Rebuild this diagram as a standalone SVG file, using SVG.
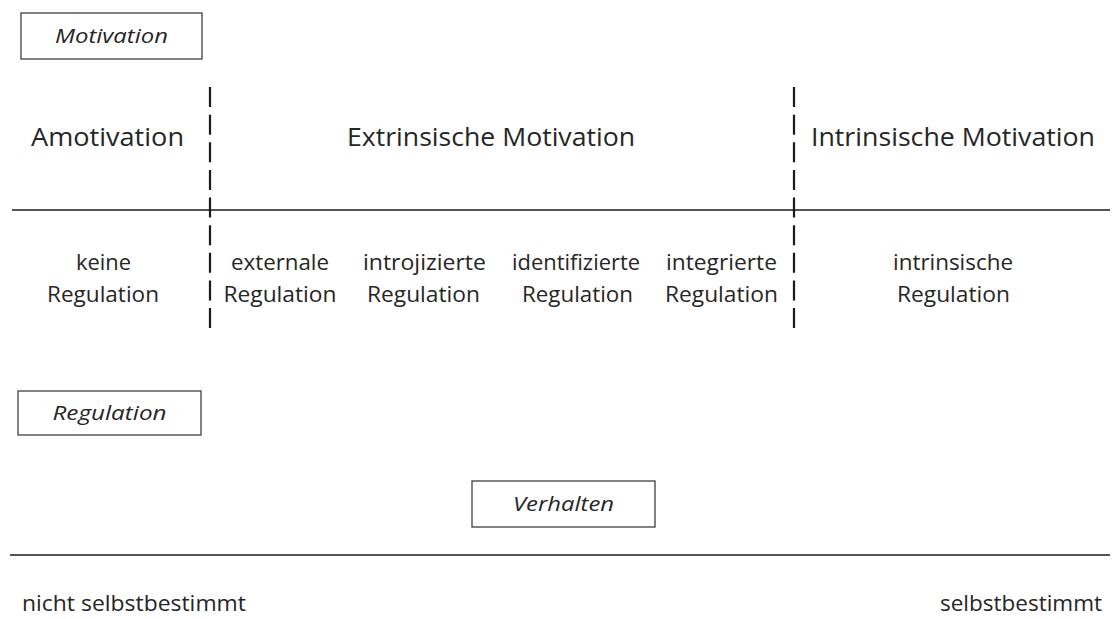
<svg xmlns="http://www.w3.org/2000/svg" width="1112" height="619" viewBox="0 0 1112 619">
<style>
text{font-family:"Open Sans","Noto Sans","Liberation Sans",sans-serif;fill:#262626;text-anchor:middle}
.h{font-size:25.5px}
.r{font-size:22px}
.it{font-size:20.5px;font-style:italic}
.box{fill:#fff;stroke:#404040;stroke-width:1.3}
.line{stroke:#1a1a1a;stroke-width:1.5;fill:none}
.dash{stroke:#1a1a1a;stroke-width:2.2;stroke-dasharray:20 7.625;fill:none}
</style>
<rect width="1112" height="619" fill="#fff"/>
<g id="connectors">
<line class="line" x1="12" y1="210" x2="1110" y2="210"/>
<line class="line" x1="10" y1="555" x2="1110" y2="555"/>
<line class="dash" x1="210" y1="87" x2="210" y2="328"/>
<line class="dash" x1="794" y1="87" x2="794" y2="328"/>
</g>
<g id="motivation-label">
<rect class="box" x="21" y="13" width="181" height="46"/>
<text class="it" x="111.5" y="43" textLength="113" lengthAdjust="spacingAndGlyphs">Motivation</text>
</g>
<g id="amotivation"><text class="h" x="107.5" y="146" textLength="153" lengthAdjust="spacingAndGlyphs">Amotivation</text></g>
<g id="extrinsische"><text class="h" x="491" y="146" textLength="288" lengthAdjust="spacingAndGlyphs">Extrinsische Motivation</text></g>
<g id="intrinsische"><text class="h" x="953" y="146" textLength="284" lengthAdjust="spacingAndGlyphs">Intrinsische Motivation</text></g>
<g id="keine-regulation">
<text class="r" x="103.5" y="270" textLength="55" lengthAdjust="spacingAndGlyphs">keine</text>
<text class="r" x="103" y="302" textLength="112" lengthAdjust="spacingAndGlyphs">Regulation</text>
</g>
<g id="externale-regulation">
<text class="r" x="280" y="270" textLength="98" lengthAdjust="spacingAndGlyphs">externale</text>
<text class="r" x="280" y="302" textLength="113" lengthAdjust="spacingAndGlyphs">Regulation</text>
</g>
<g id="introjizierte-regulation">
<text class="r" x="424.5" y="270" textLength="123" lengthAdjust="spacingAndGlyphs">introjizierte</text>
<text class="r" x="423.5" y="302" textLength="113" lengthAdjust="spacingAndGlyphs">Regulation</text>
</g>
<g id="identifizierte-regulation">
<text class="r" x="576" y="270" textLength="128" lengthAdjust="spacingAndGlyphs">identifizierte</text>
<text class="r" x="577.5" y="302" textLength="111" lengthAdjust="spacingAndGlyphs">Regulation</text>
</g>
<g id="integrierte-regulation">
<text class="r" x="721.5" y="270" textLength="111" lengthAdjust="spacingAndGlyphs">integrierte</text>
<text class="r" x="721.5" y="302" textLength="113" lengthAdjust="spacingAndGlyphs">Regulation</text>
</g>
<g id="intrinsische-regulation">
<text class="r" x="953" y="270" textLength="120" lengthAdjust="spacingAndGlyphs">intrinsische</text>
<text class="r" x="953.5" y="302" textLength="113" lengthAdjust="spacingAndGlyphs">Regulation</text>
</g>
<g id="regulation-label">
<rect class="box" x="18" y="391" width="183" height="44"/>
<text class="it" x="109.5" y="420" textLength="114" lengthAdjust="spacingAndGlyphs">Regulation</text>
</g>
<g id="verhalten-label">
<rect class="box" x="472" y="481" width="183" height="46"/>
<text class="it" x="563.5" y="511" textLength="101" lengthAdjust="spacingAndGlyphs">Verhalten</text>
</g>
<g id="nicht-selbstbestimmt"><text class="r" x="134" y="611" textLength="224" lengthAdjust="spacingAndGlyphs">nicht selbstbestimmt</text></g>
<g id="selbstbestimmt"><text class="r" x="1021" y="611" textLength="162" lengthAdjust="spacingAndGlyphs">selbstbestimmt</text></g>
</svg>
